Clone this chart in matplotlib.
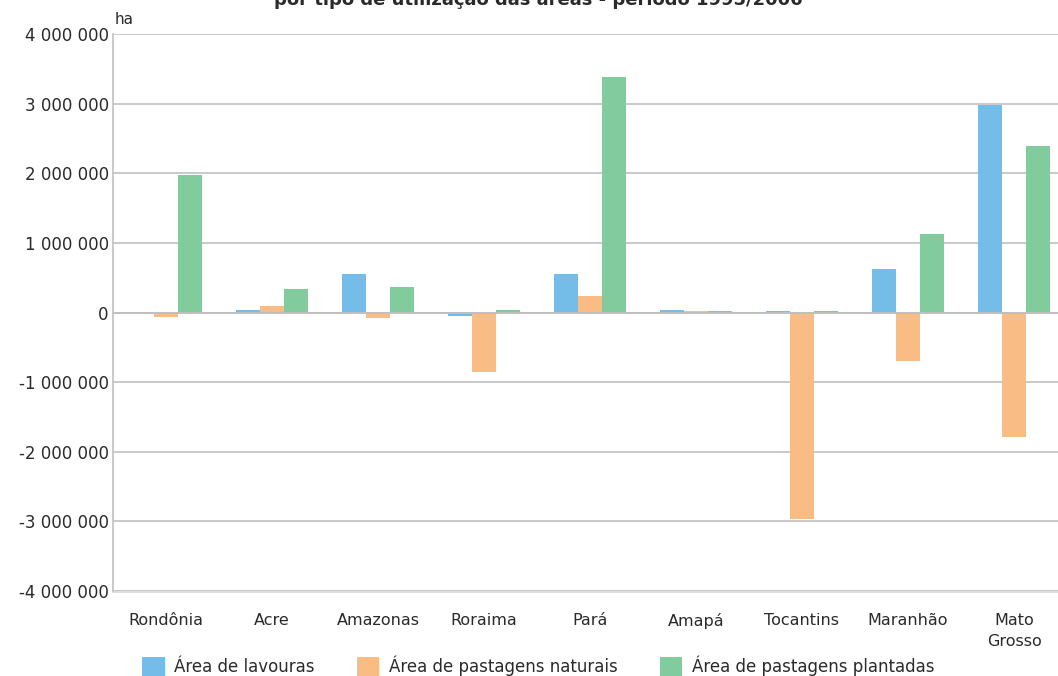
import numpy as np
import matplotlib
matplotlib.use("Agg")
import matplotlib.pyplot as plt
from matplotlib.ticker import FuncFormatter

plt.rcParams['font.family'] = ['DejaVu Sans']

estados = ["Rondônia", "Acre", "Amazonas", "Roraima", "Pará",
           "Amapá", "Tocantins", "Maranhão", "Mato\nGrosso"]

# variação de área (ha), 1995/2006
lavouras = [-10000, 40000, 560000, -50000, 560000, 40000, 15000, 620000, 2980000]
pastagens_naturais = [-65000, 100000, -80000, -850000, 230000, 15000, -2970000, -690000, -1790000]
pastagens_plantadas = [1975000, 340000, 370000, 30000, 3380000, 15000, 15000, 1130000, 2390000]

series = ["Área de lavouras", "Área de pastagens naturais", "Área de pastagens plantadas"]
cores = ["#74BDE8", "#FABC85", "#82CB9C"]

fig = plt.figure(figsize=(10.58, 6.76), dpi=100)
ax = fig.add_axes([113 / 1058, 1 - 591 / 676, 954 / 1058, 557 / 676])

x = np.arange(len(estados))
w = 0.226
for k, (vals, nome, cor) in enumerate(zip([lavouras, pastagens_naturais, pastagens_plantadas], series, cores)):
    ax.bar(x + (k - 1) * w, vals, width=w, color=cor, label=nome, zorder=3)

ax.set_xlim(-0.5, len(estados) - 0.5)
ax.set_ylim(-4000000, 4000000)
ax.set_yticks(np.arange(-4000000, 4000001, 1000000))
ax.yaxis.set_major_formatter(FuncFormatter(lambda v, p: f"{int(v):,}".replace(",", " ")))
ax.grid(axis='y', color='#C0C0C0', linewidth=1.2, zorder=0)
ax.axhline(0, color='#C0C0C0', linewidth=1.4, zorder=4)
ax.axhline(-4000000, color='#DDDDDD', linewidth=2, zorder=1, clip_on=False)

for s in ['top', 'right', 'bottom']:
    ax.spines[s].set_visible(False)
ax.spines['left'].set_color('#C0C0C0')
ax.spines['left'].set_linewidth(1.2)

ax.tick_params(axis='y', length=0, pad=3, labelsize=12, colors='#2a2a2a')
ax.tick_params(axis='x', length=0, pad=16, labelsize=11.5, colors='#2a2a2a')
ax.set_xticks(x)
ax.set_xticklabels(estados, linespacing=1.5)

fig.text(115 / 1058, 1 - 19 / 676, "ha", fontsize=11, va='center', ha='left', color='#2a2a2a')
fig.text(538 / 1058, 1 - 5 / 676, "por tipo de utilização das áreas - período 1995/2006",
         fontsize=13, fontweight='bold', ha='center', va='baseline', color='#2a2a2a')

leg = fig.legend(loc='center left', bbox_to_anchor=(142 / 1058, 1 - 666 / 676), ncol=3, frameon=False,
                 fontsize=12, handlelength=1.35, handleheight=1.35, handletextpad=0.6,
                 columnspacing=2.5, borderaxespad=0, borderpad=0)
for t in leg.get_texts():
    t.set_color('#2a2a2a')

fig.savefig("out.png", dpi=100)
